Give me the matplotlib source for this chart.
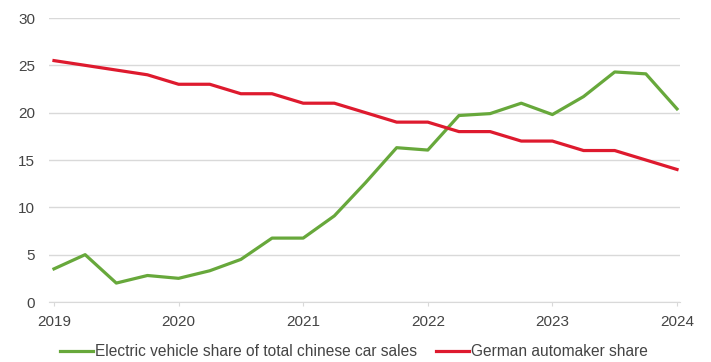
import matplotlib.pyplot as plt

# Quarterly data, Q1 2019 .. Q1 2024
quarters = [2019.0, 2019.25, 2019.5, 2019.75,
            2020.0, 2020.25, 2020.5, 2020.75,
            2021.0, 2021.25, 2021.5, 2021.75,
            2022.0, 2022.25, 2022.5, 2022.75,
            2023.0, 2023.25, 2023.5, 2023.75,
            2024.0]
ev_share = [3.5, 5.0, 2.0, 2.8, 2.5, 3.3, 4.5, 6.75, 6.75, 9.1, 12.6, 16.3,
            16.05, 19.7, 19.9, 21.0, 19.8, 21.7, 24.3, 24.1, 20.4]
german_share = [25.5, 25.0, 24.5, 24.0, 23.0, 23.0, 22.0, 22.0, 21.0, 21.0, 20.0,
                19.0, 19.0, 18.0, 18.0, 17.0, 17.0, 16.0, 16.0, 15.0, 14.0]
years = [2019, 2020, 2021, 2022, 2023, 2024]
yticks = [0, 5, 10, 15, 20, 25, 30]

green = '#67a83b'
red = '#de1a2e'
text_col = '#444444'
grid_col = '#d9d9d9'

plt.rcParams['font.family'] = ['Liberation Sans', 'DejaVu Sans']

fig = plt.figure(figsize=(7.11, 3.62), dpi=100)
ax = fig.add_axes([49 / 711, 60 / 362, 631 / 711, 284 / 362])

ax.plot(quarters, ev_share, color=green, lw=2.3, label='Electric vehicle share of total chinese car sales')
ax.plot(quarters, german_share, color=red, lw=2.3, label='German automaker share')

ax.set_xlim(2018.96, 2024.024)
ax.set_ylim(0, 30)
ax.set_xticks(years)
ax.set_xticklabels([str(y) for y in years])
ax.set_yticks(yticks)

ax.grid(axis='y', color=grid_col, lw=1)
ax.set_axisbelow(True)
for side in ['top', 'right', 'left']:
    ax.spines[side].set_visible(False)
ax.spines['bottom'].set_color(grid_col)
ax.tick_params(axis='x', colors=grid_col, labelcolor=text_col, labelsize=11, length=3, pad=6)
ax.tick_params(axis='y', length=0, labelcolor=text_col, labelsize=11, pad=10)

fig.legend(loc='center', bbox_to_anchor=(354 / 711, 1 - 352 / 362), ncol=2, frameon=False,
           fontsize=11.2, handlelength=2.1, handletextpad=0.15, columnspacing=1.2, labelcolor=text_col,
           borderaxespad=0, borderpad=0)

fig.savefig('out.png', dpi=100)
